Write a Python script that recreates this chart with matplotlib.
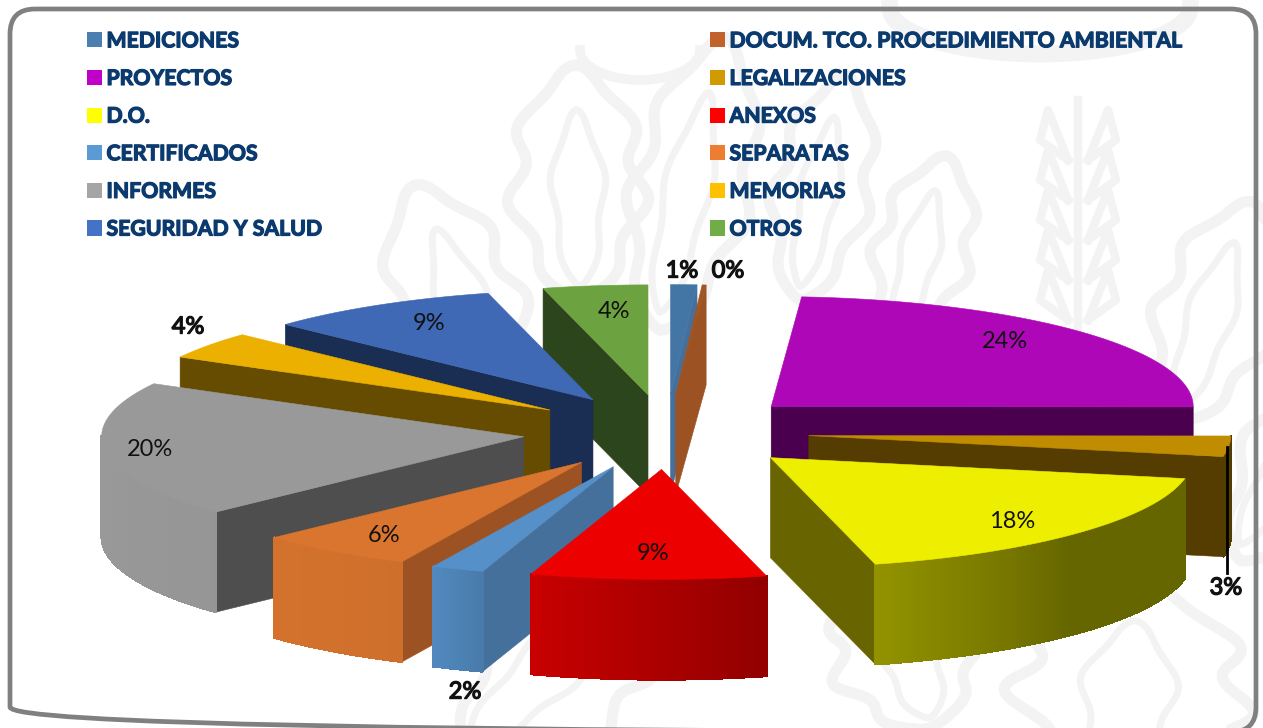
import numpy as np
import matplotlib
matplotlib.use("Agg")
import matplotlib.pyplot as plt
import matplotlib.patheffects as pe
from matplotlib.patches import FancyBboxPatch, Patch, Polygon
from matplotlib.colors import to_rgb

names = ["MEDICIONES", "DOCUM. TCO. PROCEDIMIENTO AMBIENTAL", "PROYECTOS", "LEGALIZACIONES",
         "D.O.", "ANEXOS", "CERTIFICADOS", "SEPARATAS", "INFORMES", "MEMORIAS",
         "SEGURIDAD Y SALUD", "OTROS"]
values = [1.0, 0.15, 23.9, 3.0, 17.95, 9.0, 2.0, 6.0, 20.0, 4.0, 9.0, 4.0]

legend_colors = ["#4a7fb0", "#c0622a", "#c000c8", "#d09a00", "#ffff00", "#ff0000",
                 "#5b9bd5", "#ed7d31", "#a5a5a5", "#ffc000", "#4472c4", "#70ad47"]
top_colors = ["#4476a5", "#a25522", "#ae07b7", "#c08d00", "#eeee00", "#ec0000",
              "#5590c8", "#d9752e", "#999999", "#ebb000", "#3f68b5", "#6ca240"]
wall_colors = ["#44709b", "#9c5222", "#4a004e", "#553c00", "#686500", "#9b0000",
               "#44709b", "#9c5222", "#4e4e4e", "#664c00", "#1a2d52", "#2c451c"]
# back to front
draw_order = [11, 0, 1, 10, 9, 2, 3, 8, 7, 6, 4, 5]

# where each percentage sits, in pixels of the picture
label_xy = [(682, 271), (728, 271), (1005, 341), (1226, 588), (1012, 522), (653, 553),
            (465, 692), (384, 536), (150, 450), (188, 327), (429, 324), (614, 312)]
bold_labels = [0, 1, 3, 6, 9]

explode = 0.34
depth = 0.91
W, H = 1263, 728

fig = plt.figure(figsize=(W / 100, H / 100), dpi=100)
fig.patch.set_facecolor("white")

# watermark and frame live in pixel coordinates
bg = fig.add_axes([0, 0, 1, 1])
bg.set_xlim(0, W)
bg.set_ylim(H, 0)
bg.axis("off")
wm = "#f3f3f3"


def leaf(cx, cy, length, width, tilt, lobes=3):
    t = np.linspace(0, 1, 200)
    env = np.sin(np.pi * t) ** 0.6
    wob = 1 + 0.16 * np.sin(2 * np.pi * lobes * t)
    x = np.r_[-width * env * wob, width * env[::-1] * wob[::-1]]
    y = np.r_[-length * t, -length * t[::-1]]
    c, s = np.cos(tilt), np.sin(tilt)
    return cx + c * x - s * y, cy + s * x + c * y


for cx, cy, ln, wd, tilt in [(580, 300, 235, 62, -0.02), (660, 330, 300, 55, 0.22),
                             (500, 420, 250, 60, -0.35), (900, 340, 190, 45, 0.25),
                             (800, 300, 230, 45, 0.2), (1180, 420, 230, 55, 0.32),
                             (1240, 560, 260, 50, 0.5), (930, 728, 170, 70, -0.3),
                             (1120, 790, 210, 110, 0.1), (470, 760, 260, 70, 0.8)]:
    x, y = leaf(cx, cy, ln, wd, tilt)
    bg.plot(x, y, color=wm, lw=8, solid_capstyle="round", zorder=1)
    x, y = leaf(cx, cy - ln * 0.06, ln * 0.75, wd * 0.4, tilt, lobes=2)
    bg.plot(x, y, color=wm, lw=5, solid_capstyle="round", zorder=1)

# wheat ear at the upper right
bg.plot([1078, 1078], [100, 330], color=wm, lw=6, zorder=1)
for k in range(5):
    yy = 130 + k * 40
    for sgn in (-1, 1):
        bg.plot([1078 + sgn * 10, 1078 + sgn * 38, 1078 + sgn * 30, 1078 + sgn * 10],
                [yy + 30, yy + 10, yy - 20, yy + 30], color=wm, lw=6, zorder=1)

# broad band along the top edge
t = np.linspace(0, np.pi, 60)
bg.plot(1040 + 150 * np.cos(t), 8 + 46 * np.sin(t), color=wm, lw=12, zorder=1)
bg.plot(640 + 60 * np.cos(t), 10 + 30 * np.sin(t) + 40, color=wm, lw=7, zorder=1)

frame = FancyBboxPatch((10, 9), 1246, 723, boxstyle="round,pad=0,rounding_size=25",
                       fc="none", ec="#808080", lw=3.4, zorder=2)
bg.add_patch(frame)

# pie axes: one unit = one radius
Rx, Ry = 422.0, 110.0
cx_px, cy_px = 666.0, 432.0
ax = fig.add_axes([0, 0, 1, 1], facecolor="none")
ax.set_xlim(-cx_px / Rx, (W - cx_px) / Rx)
ax.set_ylim((cy_px - H) / Ry, cy_px / Ry)
ax.axis("off")

total = sum(values)
edges = np.r_[0, np.cumsum(values)] / total * 360


def shade(deg):
    return np.interp(deg, [90, 135, 166, 198, 205, 230, 270],
                     [0.43, 0.43, 0.62, 0.85, 0.95, 0.98, 1.0])


def px(x, y):
    return (x - cx_px) / Rx, (cy_px - y) / Ry


for order, i in enumerate(draw_order):
    a, b = edges[i], edges[i + 1]
    mid = np.radians((a + b) / 2)
    ox, oy = explode * np.sin(mid), explode * np.cos(mid)
    ang = np.radians(np.linspace(a, b, 120))
    ex, ey = ox + np.sin(ang), oy + np.cos(ang)
    z = 10 + order * 10

    # straight walls, only those turned to the viewer
    if a > 180:
        ax.add_patch(Polygon([(ox, oy), (ex[0], ey[0]), (ex[0], ey[0] - depth), (ox, oy - depth)],
                             fc=wall_colors[i], ec=wall_colors[i], lw=0.4, zorder=z))
    if b < 180:
        ax.add_patch(Polygon([(ox, oy), (ex[-1], ey[-1]), (ex[-1], ey[-1] - depth), (ox, oy - depth)],
                             fc=wall_colors[i], ec=wall_colors[i], lw=0.4, zorder=z))

    # rim, in strips for the shading; no antialias or the seams show
    base = np.array(to_rgb(top_colors[i]))
    for k in range(len(ang) - 1):
        deg = np.degrees(ang[k])
        if deg < 90 or deg > 270:
            continue
        col = np.clip(base * shade(deg), 0, 1)
        ax.fill([ex[k], ex[k + 1], ex[k + 1], ex[k]],
                [ey[k], ey[k + 1], ey[k + 1] - depth, ey[k] - depth],
                fc=col, ec=col, lw=1.0, antialiased=False, zorder=z + 1)

    ax.add_patch(Polygon(np.c_[np.r_[ox, ex], np.r_[oy, ey]], fc=top_colors[i],
                         ec=top_colors[i], lw=0.4, zorder=z + 2))

for i, v in enumerate(values):
    lx, ly = px(*label_xy[i])
    txt = ax.text(lx, ly, f"{round(v)}%", fontsize=17, family="Lato", ha="center", va="center",
                  color="#111111", zorder=300)
    if i in bold_labels:
        txt.set_path_effects([pe.withStroke(linewidth=1.0, foreground="#111111")])

# leader of the 3% label
x0, y0 = px(1227, 447)
x1, y1 = px(1227, 573)
ax.plot([x0, x1], [y0, y1], color="black", lw=2, zorder=200)

handles = [Patch(fc=legend_colors[i], ec="none") for i in range(12)]
col1 = list(range(0, 12, 2))
col2 = list(range(1, 12, 2))
leg = ax.legend([handles[i] for i in col1 + col2], [names[i] for i in col1 + col2],
                ncol=2, frameon=False, loc="upper left", bbox_to_anchor=(0.0685, 0.957),
                prop={"family": "Lato", "weight": "bold", "size": 15.3},
                handlelength=0.72, handleheight=0.72, handletextpad=0.22,
                labelspacing=0.83, columnspacing=18.23, borderpad=0, borderaxespad=0)
leg.set_zorder(400)
for t in leg.get_texts():
    t.set_color("#0b3a6e")
    t.set_path_effects([pe.withStroke(linewidth=0.9, foreground="#0b3a6e")])

fig.savefig("out.png", dpi=100)
